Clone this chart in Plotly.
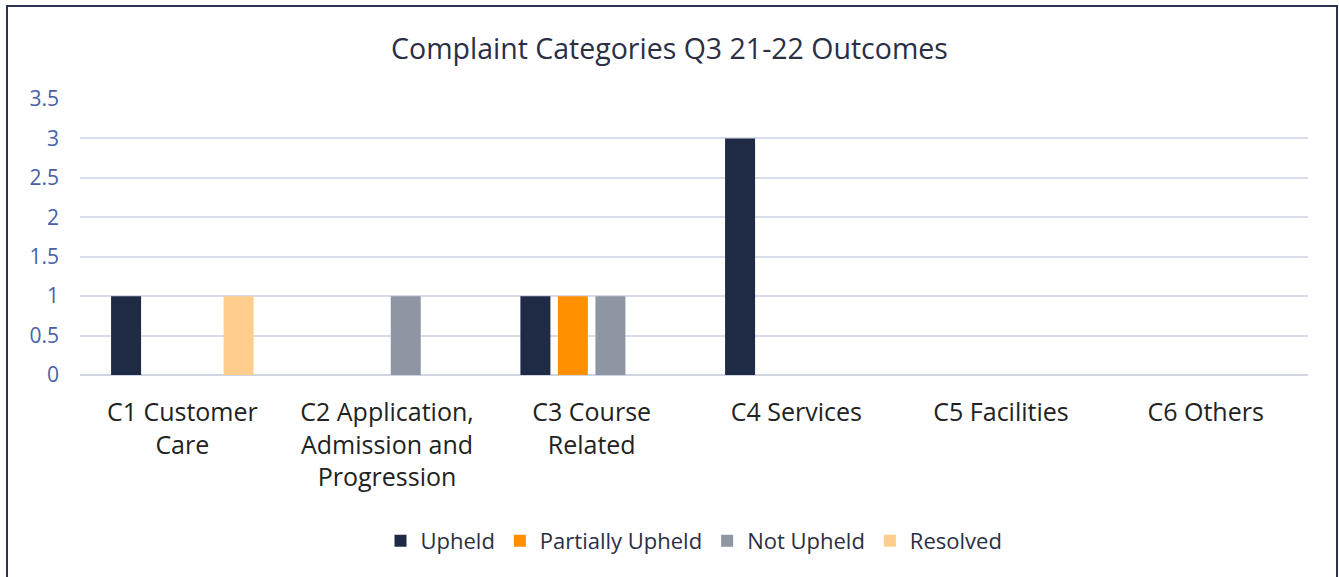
import plotly.graph_objects as go

categories = ["C1 Customer<br>Care", "C2 Application,<br>Admission and<br>Progression",
              "C3 Course<br>Related", "C4 Services", "C5 Facilities", "C6 Others"]
upheld = [1, 0, 1, 3, 0, 0]
partially_upheld = [0, 0, 1, 0, 0, 0]
not_upheld = [0, 1, 1, 0, 0, 0]
resolved = [1, 0, 0, 0, 0, 0]

series = [
    ("Upheld", upheld, "#1f2a44"),
    ("Partially Upheld", partially_upheld, "#ff9100"),
    ("Not Upheld", not_upheld, "#8f96a3"),
    ("Resolved", resolved, "#ffcd8c"),
]

FONT = "Open Sans"
fig = go.Figure()
for name, vals, color in series:
    fig.add_trace(go.Bar(name=name, x=categories, y=vals, marker_color=color,
                         marker_line_width=0))

W, H = 1339, 577
L, R, T, B = 80, 31, 99, 202
pw = W - L - R
ph = H - T - B

def px_x(p):
    return (p - L) / pw

def px_y(p):
    return (H - B - p) / ph

fig.update_layout(
    width=W, height=H,
    margin=dict(l=L, r=R, t=T, b=B),
    paper_bgcolor="white", plot_bgcolor="white",
    barmode="group", bargap=0.267, bargroupgap=0.2,
    font=dict(family=FONT, color="#2b2f45"),
    title=dict(text="Complaint Categories Q3 21-22 Outcomes",
               x=0.5, xanchor="center", y=1 - 49 / H, yanchor="middle",
               font=dict(size=28.5, color="#2a2f45", family=FONT)),
    legend=dict(orientation="h", x=0.5, xanchor="center",
                y=px_y(541), yanchor="middle",
                font=dict(size=22, color="#2a2f45", family=FONT),
                itemwidth=30, traceorder="normal"),
    xaxis=dict(showgrid=False, showline=False, ticks="",
               tickfont=dict(size=25, color="#222222", family=FONT),
               ticklabelstandoff=20),
    yaxis=dict(range=[0, 3.5], dtick=0.5, showgrid=True, gridcolor="#d9dcea",
               gridwidth=2, zeroline=True, zerolinecolor="#d0d3e2", zerolinewidth=2,
               showline=False, ticks="",
               tickfont=dict(size=21, color="#4a5fa8", family=FONT),
               ticklabelstandoff=20),
    shapes=[dict(type="rect", xref="paper", yref="paper",
                 x0=px_x(7), x1=px_x(1337), y0=px_y(600), y1=px_y(6),
                 line=dict(color="#2b3350", width=2), layer="above")],
)

fig.write_html("out.html")
